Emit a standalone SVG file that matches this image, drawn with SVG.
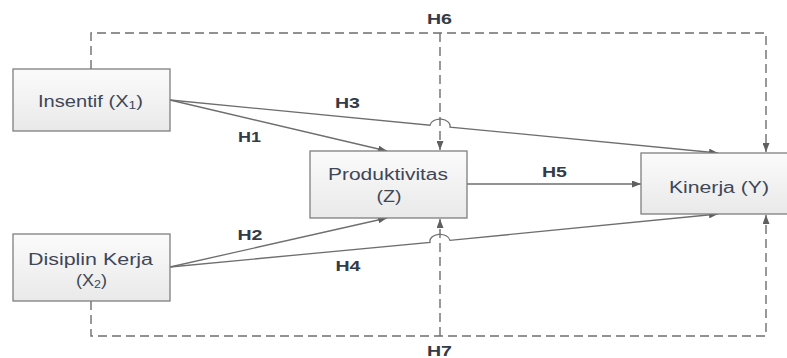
<svg xmlns="http://www.w3.org/2000/svg" width="787" height="358" viewBox="0 0 787 358">
<style>
  .box { fill: url(#boxfill); stroke: #7f7f7f; stroke-width: 1.3; }
  .lbl { font-family: "Liberation Sans", Arial, sans-serif; font-size: 16px; fill: #3f4656; text-anchor: middle; }
  .h { font-family: "Liberation Sans", Arial, sans-serif; font-size: 14px; font-weight: bold; fill: #333a48; text-anchor: middle; }
  .solid { fill: none; stroke: #6e6e6e; stroke-width: 1.3; }
  .dash { fill: none; stroke: #6e6e6e; stroke-width: 1.4; stroke-dasharray: 9 5; }
</style>
<defs>
  <linearGradient id="boxfill" x1="0" y1="0" x2="0" y2="1">
    <stop offset="0" stop-color="#fbfbfb"/>
    <stop offset="1" stop-color="#e9e9e9"/>
  </linearGradient>
  <marker id="arr" viewBox="0 0 9 7" refX="9" refY="3.5" markerWidth="9" markerHeight="7" markerUnits="userSpaceOnUse" orient="auto">
    <path d="M0,0 L9,3.5 L0,7 z" fill="#5f5f5f"/>
  </marker>
</defs>
<rect width="787" height="358" fill="#ffffff"/>

<g id="connectors">
  <path class="dash" d="M91,69 V33 H766 V152" marker-end="url(#arr)"/>
  <path class="dash" d="M440,33 V150" marker-end="url(#arr)"/>
  <path class="dash" d="M91,301 V336 H766 V215" marker-end="url(#arr)"/>
  <path class="dash" d="M440,336 V219" marker-end="url(#arr)"/>
  <path class="solid" d="M170,100 L387,151" marker-end="url(#arr)"/>
  <path class="solid" d="M170,100 L430,125.2 A10,7 0 0 1 450,127.1 L718,153" marker-end="url(#arr)"/>
  <path class="solid" d="M170,267 L387,218" marker-end="url(#arr)"/>
  <path class="solid" d="M170,267 L430,242.3 A10,7 0 0 1 450,240.4 L718,214" marker-end="url(#arr)"/>
  <path class="solid" d="M467,184 L641,184" marker-end="url(#arr)"/>
</g>

<g id="node-insentif">
  <rect class="box" x="13" y="69" width="157" height="62"/>
  <text class="lbl" x="90.5" y="107" textLength="105" lengthAdjust="spacingAndGlyphs">Insentif (X<tspan font-size="11" dy="2">1</tspan><tspan dy="-2">)</tspan></text>
</g>

<g id="node-disiplin">
  <rect class="box" x="13" y="234" width="157" height="67"/>
  <text class="lbl" x="90.5" y="265" textLength="125" lengthAdjust="spacingAndGlyphs">Disiplin Kerja</text>
  <text class="lbl" x="91.5" y="286" textLength="31" lengthAdjust="spacingAndGlyphs">(X<tspan font-size="11" dy="2">2</tspan><tspan dy="-2">)</tspan></text>
</g>

<g id="node-produktivitas">
  <rect class="box" x="310" y="151" width="157" height="67"/>
  <text class="lbl" x="388" y="180" textLength="120" lengthAdjust="spacingAndGlyphs">Produktivitas</text>
  <text class="lbl" x="389" y="202" textLength="25" lengthAdjust="spacingAndGlyphs">(Z)</text>
</g>

<g id="node-kinerja">
  <rect class="box" x="641" y="153" width="160" height="61"/>
  <text class="lbl" x="719" y="193" textLength="100" lengthAdjust="spacingAndGlyphs">Kinerja (Y)</text>
</g>

<g id="labels">
  <text class="h" x="439.5" y="24" textLength="25" lengthAdjust="spacingAndGlyphs">H6</text>
  <text class="h" x="347.5" y="108" textLength="25" lengthAdjust="spacingAndGlyphs">H3</text>
  <text class="h" x="249.5" y="141.5" textLength="23" lengthAdjust="spacingAndGlyphs">H1</text>
  <text class="h" x="554.5" y="177" textLength="25" lengthAdjust="spacingAndGlyphs">H5</text>
  <text class="h" x="250" y="240" textLength="25" lengthAdjust="spacingAndGlyphs">H2</text>
  <text class="h" x="348" y="271" textLength="25" lengthAdjust="spacingAndGlyphs">H4</text>
  <text class="h" x="439.5" y="356" textLength="25" lengthAdjust="spacingAndGlyphs">H7</text>
</g>
</svg>
